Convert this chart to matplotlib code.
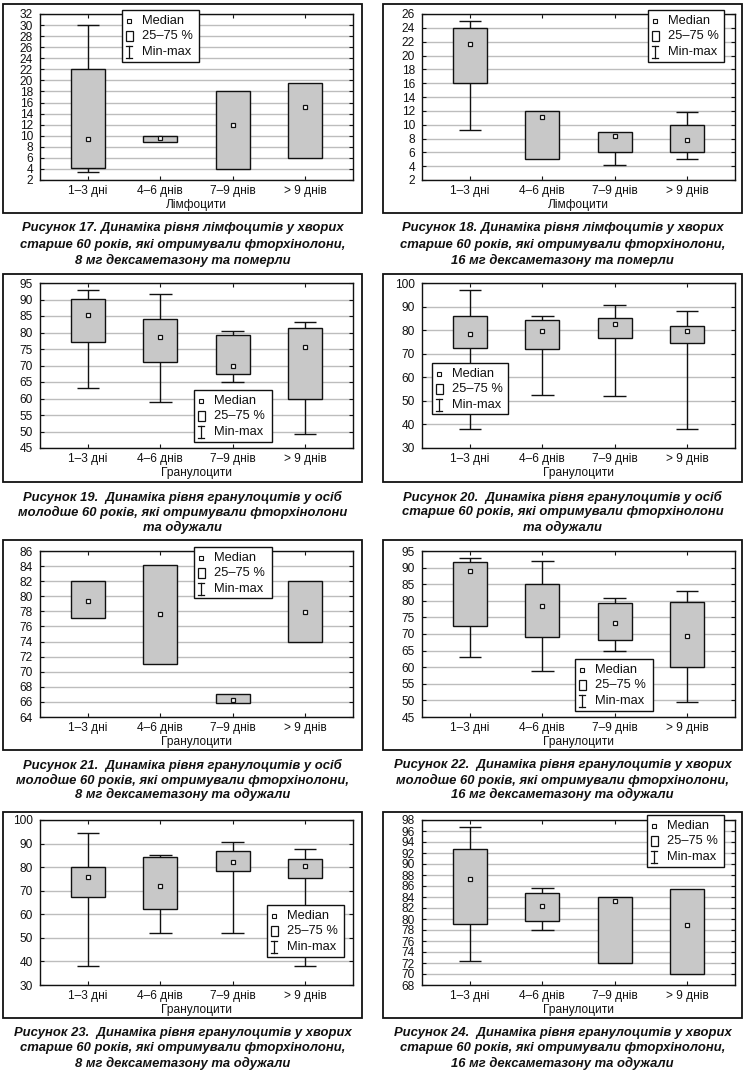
import matplotlib
matplotlib.use("Agg")
import matplotlib.pyplot as plt
from matplotlib.patches import Rectangle
from matplotlib.lines import Line2D
import numpy as np

plt.rcParams['font.family'] = ['Liberation Sans', 'DejaVu Sans']

W, H = 747, 1076

categories = ["1–3 дні", "4–6 днів", "7–9 днів", "> 9 днів"]
legend_labels = ["Median", "25–75 %", "Min-max"]

# ---- Figure 17 (Лімфоцити) ----
min17 = [3.5, 8.9, 4.0, 6.0]
q1_17 = [4.2, 8.9, 4.0, 6.0]
med17 = [9.5, 9.6, 12.0, 15.2]
q3_17 = [22.0, 10.0, 18.0, 19.6]
max17 = [30.0, 10.0, 18.0, 19.6]
yt17 = list(range(2, 33, 2))

# ---- Figure 18 (Лімфоцити) ----
min18 = [9.2, 5.1, 4.2, 5.1]
q1_18 = [16.0, 5.1, 6.1, 6.1]
med18 = [21.7, 11.1, 8.3, 7.8]
q3_18 = [24.0, 12.0, 9.0, 10.0]
max18 = [25.0, 12.0, 9.0, 11.9]
yt18 = list(range(2, 27, 2))

# ---- Figure 19 (Гранулоцити) ----
min19 = [63.2, 58.9, 65.0, 49.2]
q1_19 = [77.0, 71.2, 67.3, 60.0]
med19 = [85.2, 78.6, 69.8, 75.7]
q3_19 = [90.3, 84.0, 79.1, 81.5]
max19 = [92.8, 91.8, 80.6, 83.1]
yt19 = list(range(45, 96, 5))

# ---- Figure 20 (Гранулоцити) ----
min20 = [38.0, 52.4, 52.0, 38.0]
q1_20 = [72.6, 71.8, 76.8, 74.4]
med20 = [78.5, 79.5, 82.6, 79.8]
q3_20 = [86.2, 84.2, 85.0, 81.6]
max20 = [97.0, 85.8, 90.5, 88.0]
yt20 = list(range(30, 101, 10))

# ---- Figure 21 (Гранулоцити) ----
min21 = [77.1, 71.0, 65.8, 74.0]
q1_21 = [77.1, 71.0, 65.8, 74.0]
med21 = [79.4, 77.6, 66.3, 77.9]
q3_21 = [82.0, 84.1, 67.0, 82.0]
max21 = [82.0, 84.1, 67.0, 82.0]
yt21 = list(range(64, 87, 2))

# ---- Figure 22 (Гранулоцити) ----
min22 = [63.0, 59.0, 65.0, 49.4]
q1_22 = [72.3, 69.0, 68.1, 60.0]
med22 = [88.9, 78.3, 73.4, 69.5]
q3_22 = [91.7, 85.0, 79.3, 79.7]
max22 = [93.0, 92.0, 80.9, 83.0]
yt22 = list(range(45, 96, 5))

# ---- Figure 23 (Гранулоцити) ----
min23 = [38.0, 52.0, 52.0, 38.0]
q1_23 = [67.2, 62.1, 78.2, 75.6]
med23 = [76.0, 71.8, 82.0, 80.4]
q3_23 = [80.0, 84.1, 86.7, 83.3]
max23 = [94.3, 85.0, 90.5, 87.6]
yt23 = list(range(30, 101, 10))

# ---- Figure 24 (Гранулоцити) ----
min24 = [72.3, 78.0, 72.0, 70.0]
q1_24 = [79.1, 79.7, 72.0, 70.0]
med24 = [87.2, 82.4, 83.3, 79.0]
q3_24 = [92.7, 84.7, 84.0, 85.5]
max24 = [96.7, 85.7, 84.0, 85.5]
yt24 = list(range(68, 99, 2))

xlabel_lymph = "Лімфоцити"
xlabel_gran = "Гранулоцити"

cap17 = ["Рисунок 17. Динаміка рівня лімфоцитів у хворих",
         "старше 60 років, які отримували фторхінолони,",
         "8 мг дексаметазону та померли"]
cap18 = ["Рисунок 18. Динаміка рівня лімфоцитів у хворих",
         "старше 60 років, які отримували фторхінолони,",
         "16 мг дексаметазону та померли"]
cap19 = ["Рисунок 19.  Динаміка рівня гранулоцитів у осіб",
         "молодше 60 років, які отримували фторхінолони",
         "та одужали"]
cap20 = ["Рисунок 20.  Динаміка рівня гранулоцитів у осіб",
         "старше 60 років, які отримували фторхінолони",
         "та одужали"]
cap21 = ["Рисунок 21.  Динаміка рівня гранулоцитів у осіб",
         "молодше 60 років, які отримували фторхінолони,",
         "8 мг дексаметазону та одужали"]
cap22 = ["Рисунок 22.  Динаміка рівня гранулоцитів у хворих",
         "молодше 60 років, які отримували фторхінолони,",
         "16 мг дексаметазону та одужали"]
cap23 = ["Рисунок 23.  Динаміка рівня гранулоцитів у хворих",
         "старше 60 років, які отримували фторхінолони,",
         "8 мг дексаметазону та одужали"]
cap24 = ["Рисунок 24.  Динаміка рівня гранулоцитів у хворих",
         "старше 60 років, які отримували фторхінолони,",
         "16 мг дексаметазону та одужали"]

# ---------------- layout (pixels) ----------------
col_axes = [(40, 353), (422, 735)]
col_frames = [(3, 362), (383, 742)]
row_axes = [(14, 180), (283, 448), (551, 717), (820, 985)]
row_frames = [(4, 213), (274, 482), (540, 750), (812, 1018)]
row_caps = [(228, 245, 260), (497, 512, 527), (765, 780, 794), (1033, 1048, 1063)]

panels = [
    (0, 0, min17, q1_17, med17, q3_17, max17, yt17, xlabel_lymph, cap17, (122, 10, 199, 62)),
    (0, 1, min18, q1_18, med18, q3_18, max18, yt18, xlabel_lymph, cap18, (648, 10, 724, 62)),
    (1, 0, min19, q1_19, med19, q3_19, max19, yt19, xlabel_gran, cap19, (194, 390, 272, 442)),
    (1, 1, min20, q1_20, med20, q3_20, max20, yt20, xlabel_gran, cap20, (432, 363, 508, 414)),
    (2, 0, min21, q1_21, med21, q3_21, max21, yt21, xlabel_gran, cap21, (194, 547, 272, 598)),
    (2, 1, min22, q1_22, med22, q3_22, max22, yt22, xlabel_gran, cap22, (575, 659, 653, 711)),
    (3, 0, min23, q1_23, med23, q3_23, max23, yt23, xlabel_gran, cap23, (267, 905, 344, 957)),
    (3, 1, min24, q1_24, med24, q3_24, max24, yt24, xlabel_gran, cap24, (647, 815, 724, 867)),
]

BOX_FC = '#c8c8c8'
GRID_C = '#bdbdbd'
INK = '#111111'

fig = plt.figure(figsize=(W / 100, H / 100), dpi=100)


def fx(x):
    return x / W


def fy(y):
    return 1 - y / H


def draw_legend(l, t, r, b):
    fig.add_artist(Rectangle((fx(l), fy(b)), fx(r) - fx(l), fy(t) - fy(b),
                             transform=fig.transFigure, facecolor='white',
                             edgecolor=INK, lw=1.0, zorder=10))
    mx = l + 7
    tx = l + 20
    rows = [t + 11, t + 26, t + 42]
    # median marker
    fig.add_artist(Line2D([fx(mx)], [fy(rows[0])], marker='s', ms=3.0,
                          mfc='white', mec=INK, mew=0.8, ls='none',
                          transform=fig.transFigure, zorder=11))
    # box symbol
    fig.add_artist(Rectangle((fx(mx - 3), fy(rows[1] + 5)), fx(7), 10 / H,
                             transform=fig.transFigure, facecolor='white',
                             edgecolor=INK, lw=0.9, zorder=11))
    # min-max symbol
    y0, y1 = rows[2] - 6, rows[2] + 6
    for xs, ys in [([mx, mx], [y0, y1]), ([mx - 3, mx + 3], [y0, y0]),
                   ([mx - 3, mx + 3], [y1, y1])]:
        fig.add_artist(Line2D([fx(v) for v in xs], [fy(v) for v in ys],
                              color=INK, lw=0.9, transform=fig.transFigure,
                              zorder=11))
    for yy, lab in zip(rows, legend_labels):
        fig.text(fx(tx), fy(yy), lab, ha='left', va='center', fontsize=9.3,
                 color=INK, zorder=12)


x = np.arange(1, 5)
for (ri, ci, mins, q1s, meds, q3s, maxs, yt, xlab, cap, leg) in panels:
    l, r = col_axes[ci]
    t, b = row_axes[ri]
    ax = fig.add_axes([fx(l), fy(b), (r - l) / W, (b - t) / H])
    ax.set_xlim(0.34, 4.66)
    ax.set_ylim(yt[0], yt[-1])
    ax.set_yticks(yt)
    ax.set_xticks(x)
    ax.set_xticklabels(categories)
    ax.yaxis.grid(True, color=GRID_C, lw=1.0)
    ax.set_axisbelow(True)
    ax.tick_params(direction='in', length=3, width=0.8, top=True, right=True,
                   labelsize=8.6, pad=3.5, colors=INK)
    ax.tick_params(axis='y', pad=5)
    for s in ax.spines.values():
        s.set_color(INK)
        s.set_linewidth(1.0)
    ax.set_xlabel(xlab, fontsize=8.6, labelpad=1.5, color=INK)

    q1a = np.array(q1s)
    q3a = np.array(q3s)
    for xi, lo, a, bb, hi in zip(x, mins, q1s, q3s, maxs):
        if hi > bb:
            ax.vlines(xi, bb, hi, color=INK, lw=1.0, zorder=2)
            ax.hlines(hi, xi - 0.155, xi + 0.155, color=INK, lw=1.0, zorder=2)
        if lo < a:
            ax.vlines(xi, lo, a, color=INK, lw=1.0, zorder=2)
            ax.hlines(lo, xi - 0.155, xi + 0.155, color=INK, lw=1.0, zorder=2)
    ax.bar(x, q3a - q1a, bottom=q1a, width=0.47, color=BOX_FC,
           edgecolor=INK, lw=1.0, zorder=3)
    ax.plot(x, meds, 's', ms=3.4, mfc='white', mec=INK, mew=0.9, zorder=4)

    # outer frame
    fl, fr = col_frames[ci]
    ft, fb = row_frames[ri]
    fig.add_artist(Rectangle((fx(fl), fy(fb)), (fr - fl) / W, (fb - ft) / H,
                             transform=fig.transFigure, fill=False,
                             edgecolor=INK, lw=1.3, zorder=5))
    # caption
    cx = (fl + fr) / 2
    for yy, line in zip(row_caps[ri], cap):
        fig.text(fx(cx), fy(yy), line, ha='center', va='center', fontsize=9.4,
                 fontweight='bold', style='italic', color=INK)
    draw_legend(*leg)

fig.savefig("out.png", dpi=100)
